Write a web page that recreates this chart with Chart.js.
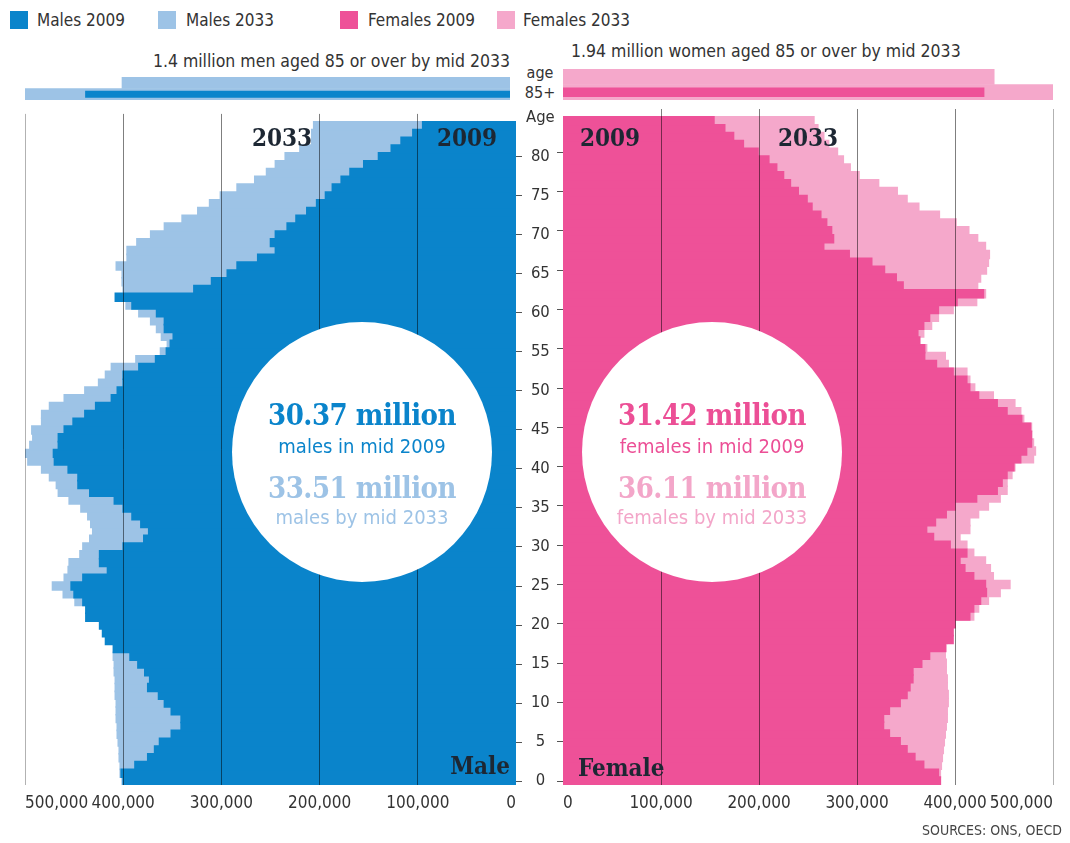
<!DOCTYPE html>
<html>
<head>
<meta charset="utf-8">
<script src="https://cdn.jsdelivr.net/npm/chart.js@4.4.1/dist/chart.umd.min.js"></script>
<style>
  body { margin: 0; background: #fff; width: 1070px; height: 843px; position: relative; overflow: hidden;
         font-family: "DejaVu Sans Condensed", "Liberation Sans Narrow", sans-serif; color: #333; }
  .box { position: absolute; }
  .lbl { position: absolute; white-space: nowrap; line-height: 1; }
  .sw { position: absolute; width: 18px; height: 18px; }
  .serif { font-family: "DejaVu Serif Condensed", "DejaVu Serif", serif; font-weight: bold; color: #1d2733; }
  .circle { position: absolute; width: 260px; height: 260px; border-radius: 50%; background: #fff; z-index: 5; }
  .circle div { position: absolute; left: 0; width: 100%; text-align: center; line-height: 1; white-space: nowrap; }
  .big { font-family: "DejaVu Serif Condensed", "DejaVu Serif", serif; font-weight: bold; font-size: 29px; letter-spacing: -0.5px; }
  .small { font-size: 20px; }
</style>
</head>
<body>

<div class="sw" style="left:10px;top:11px;background:#0a84cb"></div>
<div class="lbl" style="left:37px;top:12px;font-size:17px">Males 2009</div>
<div class="sw" style="left:158px;top:11px;background:#9dc3e6"></div>
<div class="lbl" style="left:186px;top:12px;font-size:17px">Males 2033</div>
<div class="sw" style="left:340px;top:11px;background:#ee5198"></div>
<div class="lbl" style="left:368px;top:12px;font-size:17px">Females 2009</div>
<div class="sw" style="left:497px;top:11px;background:#f5a8cb"></div>
<div class="lbl" style="left:523px;top:12px;font-size:17px">Females 2033</div>

<div class="lbl" style="right:560px;top:53px;font-size:17.5px">1.4 million men aged 85 or over by mid 2033</div>
<div class="lbl" style="left:571px;top:43px;font-size:17.5px">1.94 million women aged 85 or over by mid 2033</div>
<div class="lbl" style="left:520px;width:40px;text-align:center;top:65px;font-size:16px">age</div>
<div class="lbl" style="left:520px;width:40px;text-align:center;top:85px;font-size:16px">85+</div>

<div class="box" style="left:25px;top:77px;width:485px;height:23px"><canvas id="male85"></canvas></div>
<div class="box" style="left:563px;top:69px;width:490px;height:31px"><canvas id="female85"></canvas></div>

<div class="box" style="left:0;top:100px;width:563px;height:730px"><canvas id="maleChart"></canvas></div>
<div class="box" style="left:545px;top:100px;width:525px;height:730px"><canvas id="femaleChart"></canvas></div>

<div class="lbl serif" style="left:252px;top:126px;font-size:24px">2033</div>
<div class="lbl serif" style="left:437px;top:126px;font-size:24px">2009</div>
<div class="lbl serif" style="left:580px;top:126px;font-size:24px">2009</div>
<div class="lbl serif" style="left:778px;top:126px;font-size:24px">2033</div>
<div class="lbl serif" style="right:560px;top:754px;font-size:24px">Male</div>
<div class="lbl serif" style="left:578px;top:756px;font-size:24px">Female</div>

<div class="circle" style="left:232px;top:322px">
  <div class="big" style="top:79px;color:#0a84cb">30.37 million</div>
  <div class="small" style="top:114px;color:#0a84cb">males in mid 2009</div>
  <div class="big" style="top:152px;color:#9dc3e6">33.51 million</div>
  <div class="small" style="top:185px;color:#9dc3e6">males by mid 2033</div>
</div>
<div class="circle" style="left:582px;top:322px">
  <div class="big" style="top:79px;color:#ec4f96">31.42 million</div>
  <div class="small" style="top:114px;color:#ec4f96">females in mid 2009</div>
  <div class="big" style="top:152px;color:#f3a6c9">36.11 million</div>
  <div class="small" style="top:185px;color:#f3a6c9">females by mid 2033</div>
</div>

<div class="lbl" style="right:8px;top:823px;font-size:14px;color:#444">SOURCES: ONS, OECD</div>

<script>
// ages 0..84, plus the "Age" heading slot at the top of the axis
const ageLabels = Array.from({ length: 85 }, (_, i) => String(i)).concat(['Age']);

// thousands of people, age 0 first
const males2009 = [
  400, 402, 388, 375, 368, 363, 351, 341, 341, 351,
  358, 364, 375, 373, 378, 385, 393, 410, 418, 421,
  424, 438, 438, 441, 450, 453, 441, 416, 424, 424,
  400, 379, 374, 382, 391, 400, 409, 434, 446, 446,
  456, 470, 471, 466, 466, 460, 451, 439, 428, 412,
  406, 400, 400, 384, 367, 356, 352, 349, 358, 358,
  366, 391, 408, 328, 310, 294, 284, 263, 245, 250,
  245, 233, 224, 213, 203, 194, 187, 178, 169, 155,
  140, 127, 117, 105, 95
];
const males2033 = [
  401, 403, 403, 404, 404, 405, 406, 406, 407, 407,
  407, 408, 408, 408, 409, 409, 410, 405, 408, 410,
  412, 425, 432, 449, 461, 472, 460, 456, 455, 444,
  441, 434, 431, 433, 436, 443, 455, 466, 468, 475,
  483, 497, 502, 495, 492, 493, 483, 483, 475, 460,
  439, 425, 418, 412, 387, 362, 355, 361, 366, 372,
  384, 397, 395, 400, 401, 401, 407, 396, 396, 386,
  372, 358, 340, 324, 312, 301, 284, 266, 254, 245,
  235, 220, 208, 208, 206
];
const females2009 = [
  385, 383, 368, 359, 351, 344, 333, 327, 327, 333,
  344, 351, 354, 357, 357, 366, 374, 390, 398, 398,
  400, 415, 419, 426, 432, 431, 419, 410, 405, 412,
  395, 378, 371, 380, 391, 400, 422, 443, 448, 453,
  460, 467, 473, 478, 478, 477, 468, 453, 443, 424,
  415, 412, 398, 381, 369, 369, 364, 362, 368, 374,
  383, 402, 429, 347, 340, 328, 315, 292, 266, 276,
  274, 269, 263, 254, 249, 240, 232, 225, 218, 210,
  199, 184, 174, 165, 154
];
const females2033 = [
  385, 385, 386, 387, 388, 389, 390, 391, 392, 392,
  393, 393, 392, 392, 391, 391, 390, 391, 392, 392,
  395, 419, 424, 434, 446, 456, 439, 436, 431, 419,
  412, 405, 415, 415, 424, 434, 446, 453, 453, 458,
  461, 480, 482, 480, 478, 478, 470, 467, 461, 439,
  420, 415, 412, 393, 390, 371, 362, 368, 376, 383,
  398, 422, 431, 423, 426, 432, 434, 435, 431, 423,
  414, 401, 384, 363, 351, 341, 322, 302, 293, 286,
  280, 271, 266, 260, 256
];

// the 85+ strip above the pyramid (thousands)
const over85Rows = ['upper', 'lower'];
const over85Males2033 = [400, 500];
const over85Males2009 = [null, 438];
const over85Females2033 = [440, 500];
const over85Females2009 = [null, 430];

const FONT = '"DejaVu Sans Condensed", "Liberation Sans Narrow", sans-serif';
const BLUE = '#0a84cb', LBLUE = '#9dc3e6', PINK = '#ee5198', LPINK = '#f5a8cb';

function fmt(v) { return Math.abs(v * 1000).toLocaleString('en-US'); }

function gridColor(ctx) {
  const v = ctx.tick ? Math.abs(ctx.tick.value) : 0;
  if (v === 0) return 'rgba(0,0,0,0)';
  if (v === 500) return 'rgba(0,0,0,0.3)';
  return 'rgba(0,0,0,0.5)';
}

function ageTickColor(ctx) {
  return (ctx.index % 5 === 0 && ctx.index < 85) ? '#555' : 'rgba(0,0,0,0)';
}

// males are plotted leftwards as negative values so the tick labels align inside the plot
function pyramid(id, isMale, d2009, d2033, c2009, c2033, label) {
  const sign = isMale ? -1 : 1;
  const bar = { grouped: false, barPercentage: 1, categoryPercentage: 1, inflateAmount: 0.8 };
  return new Chart(document.getElementById(id), {
    type: 'bar',
    data: {
      labels: ageLabels,
      datasets: [
        Object.assign({ label: label + ' 2009', data: d2009.map(v => sign * v), backgroundColor: c2009 }, bar),
        Object.assign({ label: label + ' 2033', data: d2033.map(v => sign * v), backgroundColor: c2033 }, bar)
      ]
    },
    options: {
      indexAxis: 'y',
      responsive: true,
      maintainAspectRatio: false,
      animation: false,
      layout: { padding: isMale ? { left: 25, top: 9, right: 0, bottom: 0 } : { left: 0, top: 9, right: 17, bottom: 0 } },
      plugins: { legend: { display: false }, tooltip: { enabled: false } },
      scales: {
        x: {
          min: isMale ? -500 : 0, max: isMale ? 0 : 500,
          ticks: { stepSize: 100, align: 'inner', padding: 8, color: '#333', font: { family: FONT, size: 17 }, callback: fmt },
          grid: { color: gridColor, drawTicks: false, z: 1 },
          border: { display: false },
          afterFit: s => { s.height = 45; }
        },
        y: {
          position: isMale ? 'right' : 'left',
          reverse: true,
          offset: true,
          grid: { offset: false, drawOnChartArea: false, drawTicks: true, tickLength: 6, color: ageTickColor },
          border: { display: false },
          ticks: {
            display: isMale, autoSkip: false, crossAlign: 'center', padding: 4,
            color: '#333', font: { family: FONT, size: 16.5 },
            callback: (v, i) => i === 85 ? 'Age' : (i % 5 === 0 ? String(i) : '')
          },
          afterFit: s => { s.width = isMale ? 47 : 18; }
        }
      }
    }
  });
}

function strip(id, isMale, d2009, d2033, c2009, c2033) {
  return new Chart(document.getElementById(id), {
    type: 'bar',
    data: {
      labels: over85Rows,
      datasets: [
        { data: d2009, backgroundColor: c2009, grouped: false, barPercentage: 0.6, categoryPercentage: 1 },
        { data: d2033, backgroundColor: c2033, grouped: false, barPercentage: 1, categoryPercentage: 1 }
      ]
    },
    options: {
      indexAxis: 'y',
      responsive: true,
      maintainAspectRatio: false,
      animation: false,
      layout: { padding: 0 },
      plugins: { legend: { display: false }, tooltip: { enabled: false } },
      scales: {
        x: { display: false, min: 0, max: 500, reverse: isMale },
        y: { display: false }
      }
    }
  });
}

pyramid('maleChart', true, males2009, males2033, BLUE, LBLUE, 'Males');
pyramid('femaleChart', false, females2009, females2033, PINK, LPINK, 'Females');
strip('male85', true, over85Males2009, over85Males2033, BLUE, LBLUE);
strip('female85', false, over85Females2009, over85Females2033, PINK, LPINK);
</script>
</body>
</html>
